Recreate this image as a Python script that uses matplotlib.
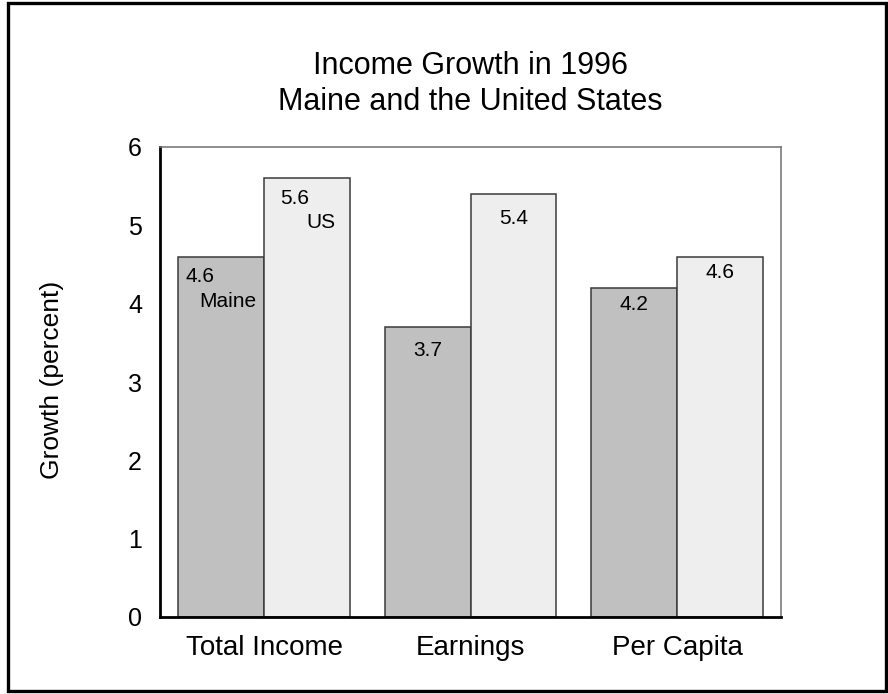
import numpy as np
import matplotlib.pyplot as plt
from matplotlib.patches import Rectangle

plt.rcParams['font.family'] = ['Liberation Sans', 'DejaVu Sans']

categories = ['Total Income', 'Earnings', 'Per Capita']
maine = [4.6, 3.7, 4.2]
us = [5.6, 5.4, 4.6]

# label offsets from bar top (pixels)
maine_off = [(-21, -20), (0, -23), (0, -17)]
us_off = [(-12, -20), (0, -24), (0, -16)]

fig = plt.figure(figsize=(8.88, 6.94), dpi=100)
ax = fig.add_axes([160/888, 1-617/694, 621/888, 470/694])

x = np.arange(len(categories))
w = 0.416
ax.bar(x - w/2, maine, w, color='#c0c0c0', edgecolor='#3a3a3a', linewidth=1.1)
ax.bar(x + w/2, us, w, color='#eeeeee', edgecolor='#3a3a3a', linewidth=1.1)

for i in range(len(categories)):
    ax.annotate(f'{maine[i]:.1f}', (x[i] - w/2, maine[i]), xytext=maine_off[i],
                textcoords='offset pixels', ha='center', va='center', fontsize=15)
    ax.annotate(f'{us[i]:.1f}', (x[i] + w/2, us[i]), xytext=us_off[i],
                textcoords='offset pixels', ha='center', va='center', fontsize=15)
ax.annotate('Maine', (x[0] - w/2, maine[0]), xytext=(7, -45),
            textcoords='offset pixels', ha='center', va='center', fontsize=15)
ax.annotate('US', (x[0] + w/2, us[0]), xytext=(14, -44),
            textcoords='offset pixels', ha='center', va='center', fontsize=15)

ax.set_xlim(-0.504, 2.504)
ax.set_ylim(0, 6)
ax.set_yticks(range(7))
ax.set_xticks(x)
ax.set_xticklabels(categories)
ax.tick_params(axis='both', length=0)
ax.tick_params(axis='y', pad=13, labelsize=18)
ax.tick_params(axis='x', pad=13, labelsize=20)
for s in ['left', 'bottom']:
    ax.spines[s].set_linewidth(2)
    ax.spines[s].set_color('black')
for s in ['top', 'right']:
    ax.spines[s].set_linewidth(1.1)
    ax.spines[s].set_color('#707070')

fig.text(52/888, 1-380/694, 'Growth (percent)', rotation=90, ha='center', va='center',
         fontsize=19)
ax.set_title('Income Growth in 1996\nMaine and the United States', fontsize=22,
             pad=27, linespacing=1.24)

fig.patches.append(Rectangle((7.5/888, 3.5/694), 878.5/888, 687.5/694,
                             transform=fig.transFigure, fill=False,
                             edgecolor='black', linewidth=2.4))

fig.savefig('out.png', dpi=100)
